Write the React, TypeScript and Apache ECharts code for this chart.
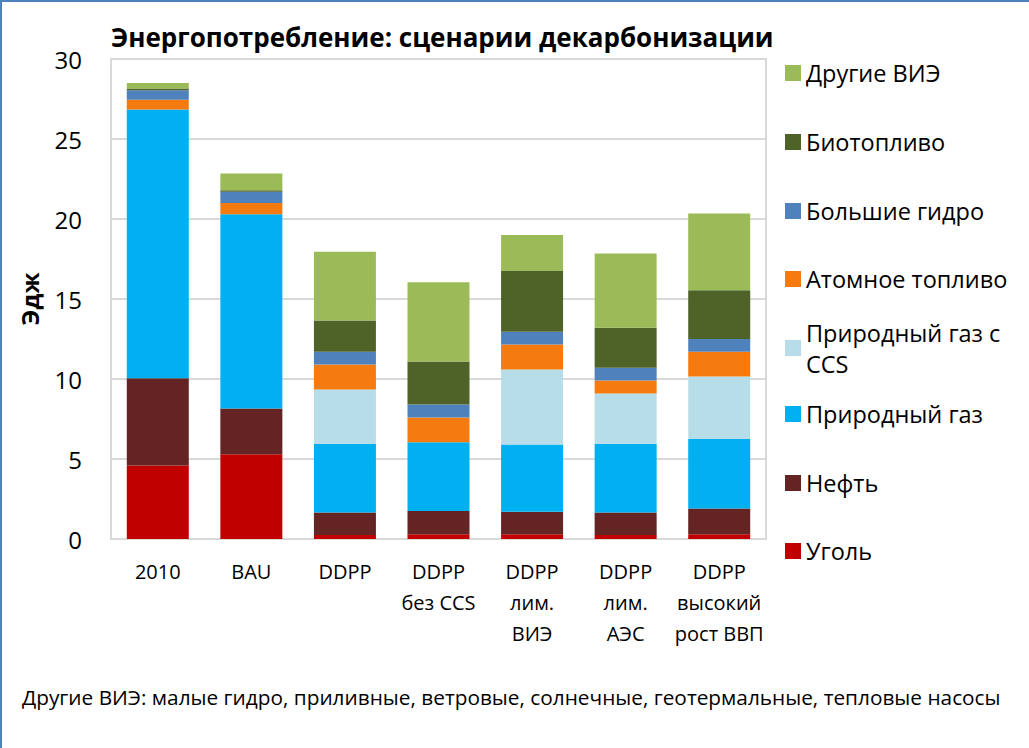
import React, { useEffect, useRef } from "react";
import * as echarts from "echarts";

const categories = [
  "2010",
  "BAU",
  "DDPP",
  "DDPP\nбез CCS",
  "DDPP\nлим.\nВИЭ",
  "DDPP\nлим.\nАЭС",
  "DDPP\nвысокий\nрост ВВП",
];

const coal = [4.6, 5.3, 0.25, 0.3, 0.3, 0.25, 0.3];
const oil = [5.45, 2.85, 1.4, 1.45, 1.4, 1.4, 1.6];
const gas = [16.8, 12.15, 4.3, 4.3, 4.2, 4.3, 4.35];
const gasCcs = [0, 0, 3.4, 0, 4.7, 3.15, 3.9];
const nuclear = [0.6, 0.7, 1.55, 1.55, 1.55, 0.8, 1.55];
const hydro = [0.6, 0.7, 0.8, 0.8, 0.8, 0.8, 0.8];
const bio = [0.1, 0.1, 1.95, 2.7, 3.8, 2.5, 3.05];
const otherRes = [0.35, 1.05, 4.3, 4.95, 2.25, 4.65, 4.8];

const seriesNames = [
  "Уголь",
  "Нефть",
  "Природный газ",
  "Природный газ с CCS",
  "Атомное топливо",
  "Большие гидро",
  "Биотопливо",
  "Другие ВИЭ",
];
const seriesData = [coal, oil, gas, gasCcs, nuclear, hydro, bio, otherRes];
const seriesColors = [
  "#c00000",
  "#632423",
  "#00b0f0",
  "#b7dee8",
  "#f57a10",
  "#4f81bd",
  "#4f6228",
  "#9bbb59",
];

const legendOrder = [
  "Другие ВИЭ",
  "Биотопливо",
  "Большие гидро",
  "Атомное топливо",
  "Природный газ с CCS",
  "Природный газ",
  "Нефть",
  "Уголь",
];
const legendCenters = [73, 142, 211, 279, 348, 414, 483, 551];

const titleText = "Энергопотребление: сценарии декарбонизации";
const footnote =
  "Другие ВИЭ: малые гидро, приливные, ветровые, солнечные, геотермальные, тепловые насосы";
const yAxisName = "Эдж";

const FONT = "'Open Sans', 'Noto Sans', sans-serif";

export default function App() {
  const ref = useRef<HTMLDivElement>(null);
  useEffect(() => {
    document.body.style.margin = "0";
    const chart = echarts.init(ref.current!, null, { renderer: "svg" });
    const LH = 31;
    const legends = legendOrder.map((name, i) => {
      const multi = name === "Природный газ с CCS";
      const textH = multi ? LH * 3 : LH;
      const top = legendCenters[i] - textH / 2;
      return {
        data: [name],
        orient: "vertical",
        left: 785,
        top,
        padding: 0,
        itemWidth: 16,
        itemHeight: 16,
        icon: "rect",
        selectedMode: false,
        formatter: (n: string) =>
          n === "Природный газ с CCS" ? "Природный газ с\nCCS" : n,
        textStyle: {
          fontFamily: FONT,
          fontSize: 23.5,
          color: "#000",
          lineHeight: LH,
          padding: multi ? [LH, 0, 0, 0] : 0,
        },
      };
    });
    chart.setOption({
      animation: false,
      textStyle: { fontFamily: FONT },
      title: [
        {
          text: titleText,
          left: 111,
          top: 24,
          padding: 0,
          textStyle: {
            fontFamily: FONT,
            fontSize: 26,
            fontWeight: "bold",
            color: "#000",
          },
        },
        {
          text: footnote,
          left: 22,
          top: 686,
          padding: 0,
          textStyle: {
            fontFamily: FONT,
            fontSize: 20.8,
            fontWeight: "normal",
            color: "#000",
          },
        },
      ],
      legend: legends,
      grid: {
        left: 111,
        top: 59,
        width: 655,
        height: 480,
        show: true,
        borderColor: "#d9d9d9",
        borderWidth: 2,
        containLabel: false,
      },
      xAxis: {
        type: "category",
        data: categories,
        axisLine: { show: true, lineStyle: { color: "#d9d9d9", width: 2 } },
        axisTick: { show: false },
        axisLabel: {
          fontFamily: FONT,
          fontSize: 20,
          color: "#000",
          lineHeight: 31,
          margin: 17,
          interval: 0,
        },
      },
      yAxis: {
        type: "value",
        min: 0,
        max: 30,
        interval: 5,
        name: yAxisName,
        nameLocation: "middle",
        nameGap: 70,
        nameTextStyle: {
          fontFamily: FONT,
          fontSize: 24,
          fontWeight: "bold",
          color: "#000",
        },
        axisLine: { show: false },
        axisTick: { show: false },
        splitLine: { lineStyle: { color: "#d9d9d9", width: 2 } },
        axisLabel: {
          fontFamily: FONT,
          fontSize: 24,
          color: "#000",
          margin: 29,
        },
      },
      series: seriesNames.map((name, i) => ({
        name,
        type: "bar",
        stack: "total",
        data: seriesData[i],
        barWidth: 62,
        itemStyle: { color: seriesColors[i] },
      })),
      graphic: [
        {
          type: "rect",
          shape: { x: 1, y: 1, width: 1100, height: 800 },
          style: { fill: "none", stroke: "#4f81bd", lineWidth: 2 },
          silent: true,
        },
      ],
    });
    return () => chart.dispose();
  }, []);
  return (
    <div
      ref={ref}
      style={{ position: "fixed", left: 0, top: 0, width: 1029, height: 748, background: "#fff" }}
    />
  );
}
